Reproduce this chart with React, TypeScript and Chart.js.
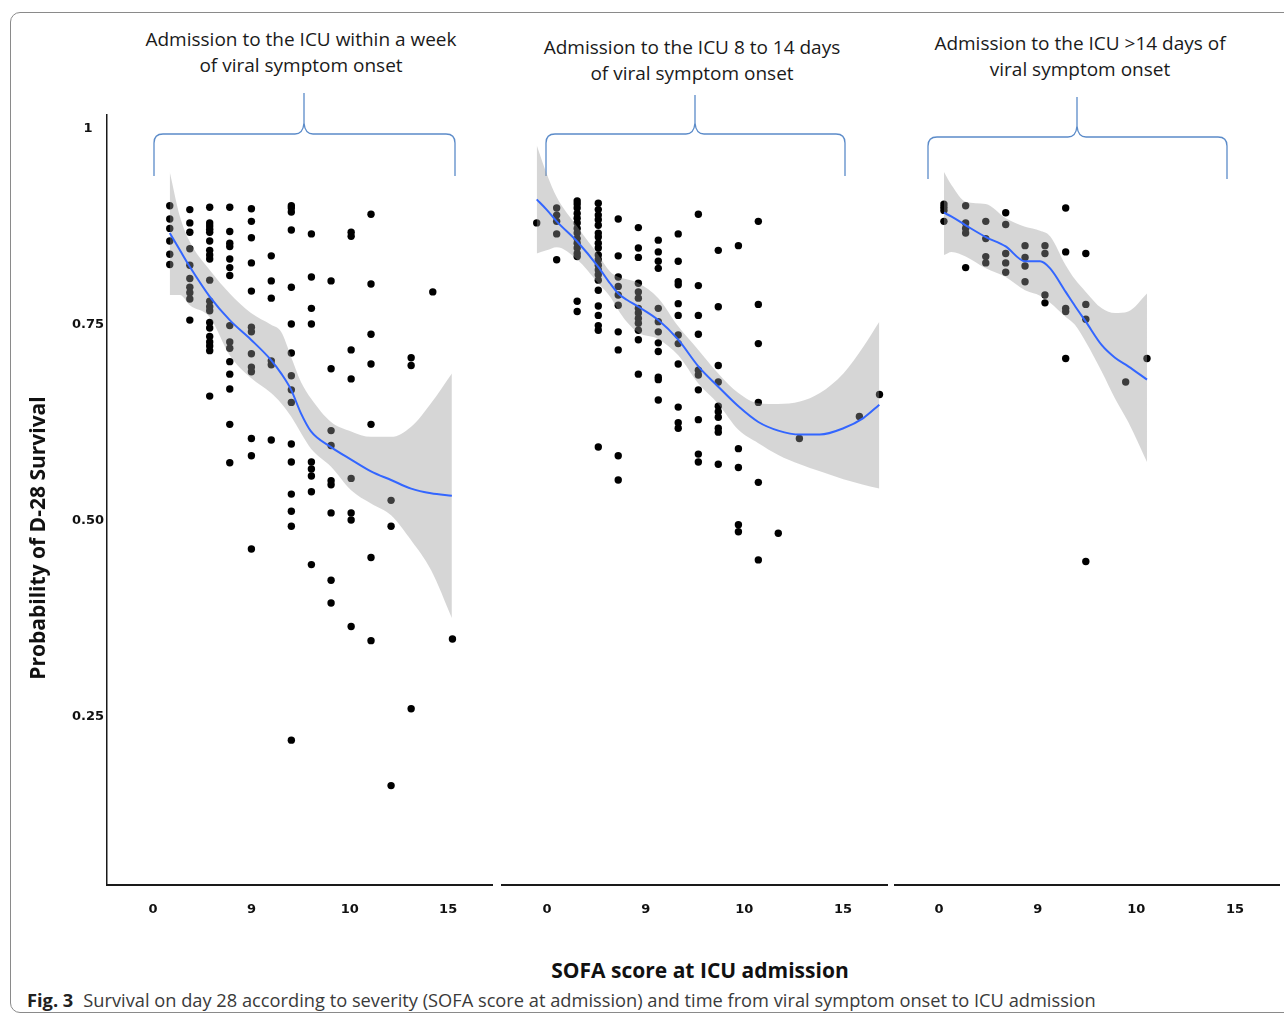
import React, { useEffect, useRef } from "react";
import { Chart, registerables } from "chart.js";

Chart.register(...registerables);

// ---------- axis ticks ----------
const xTickValues = [0, 5, 10, 15];
const xTickLabels = ["0", "9", "10", "15"];
const yTickValues = [0.25, 0.5, 0.75, 1];
const yTickLabels = ["0.25", "0.50", "0.75", "1"];

// ---------- texts ----------
const panelTitles = [
  ["Admission to the ICU within a week", "of viral symptom onset"],
  ["Admission to the ICU 8 to 14 days", "of viral symptom onset"],
  ["Admission to the ICU >14 days of", "viral symptom onset"],
];
const yAxisTitle = "Probability of D-28 Survival";
const xAxisTitle = "SOFA score at ICU admission";
const captionLabel = "Fig. 3";
const captionText =
  "Survival on day 28 according to severity (SOFA score at admission) and time from viral symptom onset to ICU admission";

// ---------- panel 1: within a week ----------
const p1Cols = [0.85, 1.87, 2.88, 3.9, 5.0, 6.01, 7.03, 8.05, 9.05, 10.07, 11.08, 12.1, 13.12, 14.22, 15.22];
const p1Vals = [
  [0.902, 0.885, 0.873, 0.857, 0.84, 0.827],
  [0.897, 0.88, 0.868, 0.847, 0.826, 0.809, 0.798, 0.791, 0.783, 0.756],
  [0.9, 0.88, 0.876, 0.872, 0.868, 0.857, 0.845, 0.839, 0.834, 0.807, 0.78, 0.773, 0.768, 0.753, 0.746, 0.735, 0.728, 0.723, 0.717, 0.659],
  [0.9, 0.869, 0.854, 0.85, 0.834, 0.823, 0.813, 0.749, 0.728, 0.72, 0.703, 0.687, 0.668, 0.623, 0.574],
  [0.898, 0.882, 0.861, 0.829, 0.793, 0.747, 0.741, 0.713, 0.696, 0.69, 0.605, 0.583, 0.464],
  [0.838, 0.806, 0.784, 0.704, 0.699, 0.603],
  [0.902, 0.899, 0.894, 0.871, 0.798, 0.751, 0.714, 0.685, 0.667, 0.651, 0.598, 0.575, 0.534, 0.512, 0.493, 0.22],
  [0.866, 0.811, 0.771, 0.751, 0.575, 0.566, 0.557, 0.537, 0.444],
  [0.806, 0.694, 0.615, 0.596, 0.551, 0.546, 0.51, 0.424, 0.395],
  [0.868, 0.863, 0.718, 0.681, 0.554, 0.51, 0.501, 0.365],
  [0.891, 0.802, 0.738, 0.7, 0.623, 0.453, 0.347],
  [0.526, 0.493, 0.162],
  [0.708, 0.698, 0.26],
  [0.792],
  [0.349],
];
const p1BandX = [0.85, 1.37, 1.87, 2.88, 3.9, 4.98, 6.0, 6.51, 7.02, 7.52, 8.03, 9.05, 10.07, 11.08, 12.1, 13.12, 14.13, 15.19];
const p1Upper = [0.945, 0.888, 0.856, 0.82, 0.79, 0.765, 0.75, 0.741, 0.709, 0.677, 0.656, 0.626, 0.614, 0.607, 0.607, 0.62, 0.65, 0.688];
const p1Lower = [0.788, 0.788, 0.775, 0.76, 0.711, 0.682, 0.663, 0.65, 0.633, 0.612, 0.592, 0.569, 0.539, 0.522, 0.507, 0.475, 0.437, 0.376];
const p1Fit = [0.867, 0.845, 0.824, 0.786, 0.756, 0.731, 0.705, 0.688, 0.667, 0.637, 0.614, 0.594, 0.578, 0.563, 0.552, 0.541, 0.535, 0.532];

// ---------- panel 2: 8 to 14 days ----------
const p2Cols = [-0.52, 0.49, 1.53, 2.6, 3.61, 4.63, 5.64, 6.65, 7.67, 8.68, 9.7, 10.71, 11.72, 12.79, 15.83, 16.85];
const p2Vals = [
  [0.88],
  [0.899, 0.89, 0.882, 0.866, 0.833],
  [0.908, 0.904, 0.899, 0.892, 0.886, 0.88, 0.873, 0.867, 0.86, 0.854, 0.848, 0.841, 0.837, 0.78, 0.767],
  [0.905, 0.897, 0.89, 0.884, 0.877, 0.867, 0.862, 0.854, 0.848, 0.839, 0.833, 0.826, 0.82, 0.814, 0.807, 0.794, 0.774, 0.762, 0.749, 0.743, 0.594],
  [0.885, 0.838, 0.811, 0.799, 0.788, 0.775, 0.741, 0.718, 0.583, 0.552],
  [0.874, 0.848, 0.836, 0.803, 0.792, 0.784, 0.771, 0.765, 0.758, 0.752, 0.743, 0.731, 0.687],
  [0.858, 0.843, 0.831, 0.822, 0.771, 0.754, 0.741, 0.727, 0.716, 0.683, 0.68, 0.654],
  [0.866, 0.831, 0.805, 0.801, 0.777, 0.762, 0.737, 0.726, 0.7, 0.645, 0.625, 0.618],
  [0.891, 0.8, 0.762, 0.738, 0.692, 0.686, 0.667, 0.629, 0.585, 0.575],
  [0.845, 0.773, 0.698, 0.677, 0.646, 0.639, 0.632, 0.618, 0.613, 0.572],
  [0.851, 0.592, 0.568, 0.495, 0.486],
  [0.882, 0.776, 0.726, 0.651, 0.549, 0.45],
  [0.484],
  [0.605],
  [0.633],
  [0.661],
];
const p2BandX = [-0.52, -0.02, 0.49, 1.54, 2.6, 3.19, 3.61, 4.04, 4.63, 5.64, 6.65, 7.67, 8.68, 9.7, 10.71, 11.72, 12.82, 13.83, 15.02, 16.03, 16.84];
const p2Upper = [0.979, 0.943, 0.913, 0.875, 0.839, 0.818, 0.811, 0.808, 0.803, 0.784, 0.748, 0.718, 0.688, 0.663, 0.65, 0.649, 0.652, 0.663, 0.688, 0.722, 0.754];
const p2Lower = [0.841, 0.845, 0.849, 0.833, 0.803, 0.786, 0.769, 0.754, 0.74, 0.732, 0.711, 0.675, 0.649, 0.616, 0.599, 0.584, 0.572, 0.563, 0.553, 0.546, 0.541];
const p2Fit = [0.91, 0.897, 0.882, 0.856, 0.824, 0.803, 0.79, 0.782, 0.773, 0.756, 0.731, 0.697, 0.671, 0.646, 0.626, 0.615, 0.61, 0.61, 0.618, 0.631, 0.648];

// ---------- panel 3: >14 days ----------
const p3Cols = [0.25, 1.35, 2.37, 3.38, 4.36, 5.37, 6.42, 7.44, 9.46, 10.54];
const p3Vals = [
  [0.904, 0.9, 0.896, 0.882],
  [0.902, 0.88, 0.873, 0.867, 0.823],
  [0.882, 0.86, 0.837, 0.829],
  [0.893, 0.878, 0.841, 0.829, 0.817],
  [0.851, 0.836, 0.825, 0.805],
  [0.851, 0.841, 0.788, 0.778],
  [0.899, 0.843, 0.771, 0.767, 0.707],
  [0.841, 0.776, 0.757, 0.448],
  [0.677],
  [0.707],
];
const p3BandX = [0.25, 0.64, 1.35, 2.37, 3.38, 4.36, 5.12, 5.63, 6.42, 6.89, 7.44, 8.25, 8.92, 9.59, 10.54];
const p3Upper = [0.945, 0.928, 0.907, 0.904, 0.886, 0.875, 0.87, 0.863, 0.826, 0.808, 0.792, 0.771, 0.765, 0.767, 0.79];
const p3Lower = [0.839, 0.843, 0.837, 0.822, 0.811, 0.794, 0.787, 0.778, 0.76, 0.75, 0.728, 0.69, 0.656, 0.626, 0.575];
const p3Fit = [0.893, 0.888, 0.877, 0.862, 0.85, 0.831, 0.831, 0.822, 0.792, 0.774, 0.754, 0.724, 0.708, 0.697, 0.68];

const X_MAX = 17.23;
const Y_MIN = 0.0352;
const Y_MAX = 1.0177;

type XY = { x: number; y: number };
const toPoints = (cols: number[], vals: number[][]): XY[] =>
  cols.flatMap((c, i) => vals[i].map((v) => ({ x: c, y: v })));
const toLine = (xs: number[], ys: number[]): XY[] => xs.map((x, i) => ({ x, y: ys[i] }));

type PanelProps = {
  cols: number[];
  vals: number[][];
  bandX: number[];
  upper: number[];
  lower: number[];
  fit: number[];
  xMin: number;
  showY: boolean;
  left: number;
  top: number;
  width: number;
  height: number;
  padLeft: number;
  padRight: number;
};

function Panel(p: PanelProps) {
  const ref = useRef<HTMLCanvasElement | null>(null);
  useEffect(() => {
    if (!ref.current) return;
    const tickFont = { family: "'DejaVu Sans', sans-serif", weight: "bold" as const, size: 13 };
    const chart = new Chart(ref.current, {
      type: "scatter",
      data: {
        datasets: [
          {
            type: "scatter",
            data: toPoints(p.cols, p.vals),
            pointRadius: 3.7,
            pointBackgroundColor: "#000000",
            pointBorderWidth: 0,
            pointBorderColor: "rgba(0,0,0,0)",
            order: 3,
          } as any,
          {
            type: "line",
            data: toLine(p.bandX, p.lower),
            borderColor: "rgba(0,0,0,0)",
            borderWidth: 1,
            pointRadius: 0,
            fill: false,
            cubicInterpolationMode: "monotone",
            order: 2,
          } as any,
          {
            type: "line",
            data: toLine(p.bandX, p.upper),
            borderColor: "rgba(0,0,0,0)",
            borderWidth: 1,
            pointRadius: 0,
            fill: "-1",
            backgroundColor: "rgba(153,153,153,0.4)",
            cubicInterpolationMode: "monotone",
            order: 2,
          } as any,
          {
            type: "line",
            data: toLine(p.bandX, p.fit),
            borderColor: "#3366FF",
            borderWidth: 2,
            pointRadius: 0,
            fill: false,
            cubicInterpolationMode: "monotone",
            order: 1,
          } as any,
        ],
      },
      options: {
        animation: false,
        responsive: false,
        events: [],
        layout: { padding: { left: p.padLeft, right: p.padRight, top: 15, bottom: 5 } },
        plugins: { legend: { display: false }, tooltip: { enabled: false } },
        scales: {
          x: {
            type: "linear",
            min: p.xMin,
            max: X_MAX,
            grid: { display: false, drawTicks: false },
            border: { display: true, color: "#1a1a1a", width: 2 },
            afterBuildTicks: (s: any) => {
              s.ticks = xTickValues.map((v) => ({ value: v }));
            },
            afterFit: (s: any) => {
              s.height = 50;
            },
            ticks: {
              padding: 17,
              color: "#111111",
              font: tickFont,
              autoSkip: false,
              maxRotation: 0,
              callback: (v: any) => {
                const i = xTickValues.indexOf(Number(v));
                return i >= 0 ? xTickLabels[i] : "";
              },
            },
          },
          y: {
            type: "linear",
            display: p.showY,
            min: Y_MIN,
            max: Y_MAX,
            grid: { display: false, drawTicks: false },
            border: { display: true, color: "#1a1a1a", width: 1.5 },
            afterBuildTicks: (s: any) => {
              s.ticks = yTickValues.map((v) => ({ value: v }));
            },
            afterFit: (s: any) => {
              s.width = p.showY ? 100 : 0;
            },
            ticks: {
              padding: 3,
              crossAlign: "center",
              color: "#111111",
              font: tickFont,
              autoSkip: false,
              callback: (v: any) => {
                const i = yTickValues.indexOf(Number(v));
                return i >= 0 ? yTickLabels[i] : "";
              },
            },
          },
        },
      } as any,
    });
    return () => chart.destroy();
  }, []);
  return (
    <canvas
      ref={ref}
      width={p.width}
      height={p.height}
      style={{ position: "absolute", left: p.left, top: p.top, width: p.width, height: p.height, display: "block" }}
    />
  );
}

const braces = [
  { x1: 154, x2: 455, xc: 304, yt: 93, yh: 134, yb: 176 },
  { x1: 546, x2: 845, xc: 695, yt: 95, yh: 134, yb: 176 },
  { x1: 928, x2: 1227, xc: 1077, yt: 97, yh: 137, yb: 179 },
];
const bracePath = (b: { x1: number; x2: number; xc: number; yt: number; yh: number; yb: number }) =>
  `M ${b.x1} ${b.yb} L ${b.x1} ${b.yh + 9} Q ${b.x1} ${b.yh} ${b.x1 + 9} ${b.yh} L ${b.xc - 9} ${b.yh} ` +
  `Q ${b.xc - 1} ${b.yh} ${b.xc} ${b.yh - 11} L ${b.xc} ${b.yt} M ${b.xc} ${b.yh - 11} ` +
  `Q ${b.xc + 1} ${b.yh} ${b.xc + 9} ${b.yh} L ${b.x2 - 9} ${b.yh} Q ${b.x2} ${b.yh} ${b.x2} ${b.yh + 9} L ${b.x2} ${b.yb}`;

const titlePos = [
  { cx: 301, cy: 39 },
  { cx: 692, cy: 47 },
  { cx: 1080, cy: 43 },
];

export default function App() {
  const font = "'Open Sans', 'Noto Sans', sans-serif";
  return (
    <div
      style={{
        position: "absolute",
        left: 0,
        top: 0,
        width: 1284,
        height: 1018,
        overflow: "hidden",
        background: "#ffffff",
        fontFamily: font,
      }}
    >
      <div
        style={{
          position: "absolute",
          left: 10,
          top: 12,
          width: 1400,
          height: 1001,
          border: "1.5px solid #8a8a8a",
          borderRadius: 10,
          boxSizing: "border-box",
        }}
      />
      {titlePos.map((t, i) => (
        <div
          key={i}
          style={{
            position: "absolute",
            left: t.cx - 220,
            top: t.cy - 13,
            width: 440,
            textAlign: "center",
            fontSize: 19,
            lineHeight: "26px",
            color: "#1a1a1a",
            whiteSpace: "nowrap",
          }}
        >
          {panelTitles[i][0]}
          <br />
          {panelTitles[i][1]}
        </div>
      ))}
      <svg
        width={1284}
        height={200}
        style={{ position: "absolute", left: 0, top: 0 }}
      >
        {braces.map((b, i) => (
          <path key={i} d={bracePath(b)} fill="none" stroke="#5b8bc9" strokeWidth={1.3} />
        ))}
      </svg>
      <Panel
        cols={p1Cols} vals={p1Vals} bandX={p1BandX} upper={p1Upper} lower={p1Lower} fit={p1Fit}
        xMin={-2.34} showY={true} left={0} top={100} width={500} height={840} padLeft={7} padRight={8}
      />
      <Panel
        cols={p2Cols} vals={p2Vals} bandX={p2BandX} upper={p2Upper} lower={p2Lower} fit={p2Fit}
        xMin={-2.28} showY={false} left={495} top={100} width={400} height={840} padLeft={7} padRight={8}
      />
      <Panel
        cols={p3Cols} vals={p3Vals} bandX={p3BandX} upper={p3Upper} lower={p3Lower} fit={p3Fit}
        xMin={-2.23} showY={false} left={888} top={100} width={396} height={840} padLeft={7} padRight={5}
      />
      <div
        style={{
          position: "absolute",
          left: 37 - 200,
          top: 538 - 14,
          width: 400,
          height: 28,
          lineHeight: "28px",
          textAlign: "center",
          fontSize: 21,
          fontWeight: 700,
          color: "#111111",
          transform: "rotate(-90deg)",
          whiteSpace: "nowrap",
        }}
      >
        {yAxisTitle}
      </div>
      <div
        style={{
          position: "absolute",
          left: 700 - 250,
          top: 970 - 14,
          width: 500,
          lineHeight: "28px",
          textAlign: "center",
          fontSize: 21,
          fontWeight: 700,
          color: "#111111",
          whiteSpace: "nowrap",
        }}
      >
        {xAxisTitle}
      </div>
      <div
        style={{
          position: "absolute",
          left: 27,
          top: 1000 - 12,
          lineHeight: "24px",
          fontSize: 18.25,
          color: "#3a3a3a",
          whiteSpace: "nowrap",
        }}
      >
        <span style={{ fontWeight: 700, color: "#222222", marginRight: 10 }}>{captionLabel}</span>
        {captionText}
      </div>
    </div>
  );
}
